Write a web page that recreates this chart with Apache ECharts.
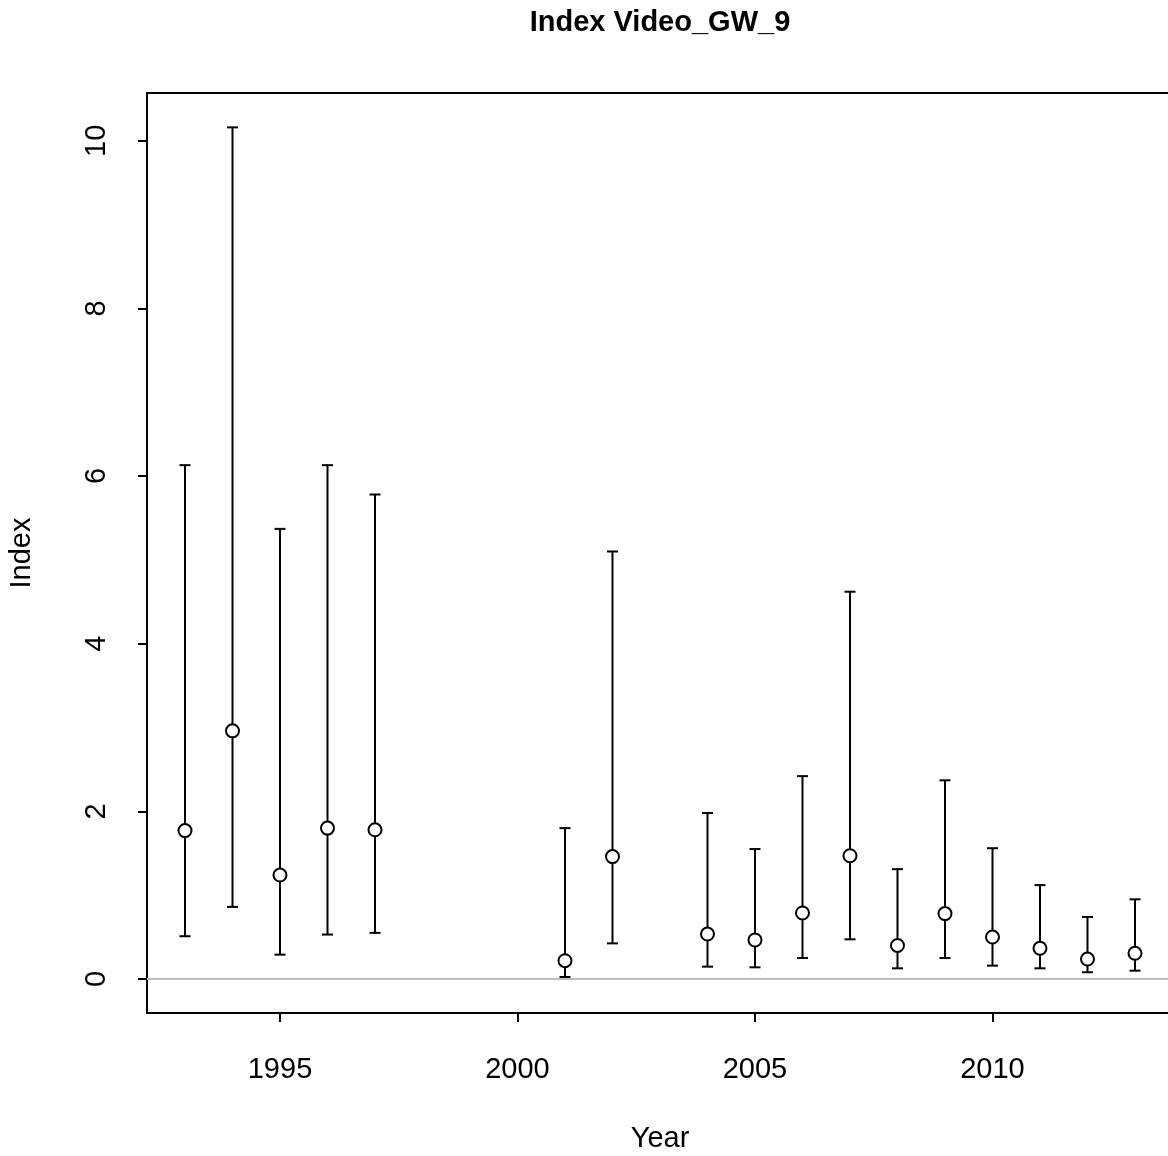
<!DOCTYPE html>
<html>
<head>
<meta charset="utf-8">
<script src="https://cdn.jsdelivr.net/npm/echarts@6/dist/echarts.min.js"></script>
<style>html,body{margin:0;padding:0;background:#fff}#c{width:1168px;height:1156px}</style>
</head>
<body>
<div id="c"></div>
<script>
const years = [1993,1994,1995,1996,1997,2001,2002,2004,2005,2006,2007,2008,2009,2010,2011,2012,2013];
const estimate = [1.77,2.96,1.24,1.80,1.78,0.218,1.46,0.536,0.465,0.787,1.47,0.40,0.78,0.50,0.366,0.238,0.306];
const lower = [0.51,0.86,0.29,0.53,0.55,0.024,0.425,0.147,0.139,0.25,0.473,0.127,0.25,0.159,0.127,0.08,0.099];
const upper = [6.13,10.16,5.37,6.13,5.78,1.80,5.10,1.98,1.55,2.42,4.62,1.31,2.37,1.56,1.12,0.74,0.95];
const xTicks = [1995,2000,2005,2010];
const yTicks = [0,2,4,6,8,10];

const FONT = '"Liberation Sans", Arial, Helvetica, sans-serif';
const chart = echarts.init(document.getElementById('c'), null, {renderer:'canvas'});

const barData = years.map((y,i)=>[y, lower[i], upper[i]]);
const ptData = years.map((y,i)=>[y, estimate[i]]);
const XMIN = 1992.2, XMAX = 2013.695;

chart.setOption({
  animation:false,
  backgroundColor:'#fff',
  grid:{left:147, top:93, right:0, height:920, show:false},
  xAxis:[{
    type:'value', min:XMIN, max:XMAX, position:'bottom',
    axisLine:{show:true, onZero:false, lineStyle:{color:'#000', width:2}},
    splitLine:{show:false},
    axisTick:{show:true, inside:false, length:9, lineStyle:{color:'#000', width:2}, customValues:xTicks},
    axisLabel:{show:true, color:'#000', fontSize:29, fontFamily:FONT, margin:42, customValues:xTicks, formatter:v=>String(v)}
  },{
    type:'value', min:XMIN, max:XMAX, position:'top',
    axisLine:{show:true, onZero:false, lineStyle:{color:'#000', width:2}},
    splitLine:{show:false}, axisTick:{show:false}, axisLabel:{show:false}
  }],
  yAxis:{
    type:'value', min:-0.406, max:10.57,
    axisLine:{show:true, onZero:false, lineStyle:{color:'#000', width:2}},
    splitLine:{show:false},
    axisTick:{show:true, inside:false, length:9, lineStyle:{color:'#000', width:2}, customValues:yTicks},
    axisLabel:{show:true, color:'#000', fontSize:29, fontFamily:FONT, margin:36, rotate:90, customValues:yTicks, formatter:v=>String(v)}
  },
  graphic:[
    {type:'text', x:660, y:23, style:{text:'Index Video_GW_9', font:'bold 29px '+FONT, fill:'#000', align:'center', verticalAlign:'middle'}},
    {type:'text', x:660, y:1139, style:{text:'Year', font:'29px '+FONT, fill:'#000', align:'center', verticalAlign:'middle'}},
    {type:'text', x:22, y:553, rotation:Math.PI/2, style:{text:'Index', font:'29px '+FONT, fill:'#000', align:'center', verticalAlign:'middle'}}
  ],
  series:[
    {
      type:'line', data:[[XMIN,0],[XMAX,0]], symbol:'none', silent:true,
      lineStyle:{color:'#bebebe', width:2}, z:1
    },
    {
      type:'custom', data:barData, z:2,
      renderItem:function(params, api){
        const x = api.coord([api.value(0), 0])[0];
        const yl = api.coord([0, api.value(1)])[1];
        const yh = api.coord([0, api.value(2)])[1];
        const hw = 5.5;
        const st = {stroke:'#000', lineWidth:2};
        return {type:'group', children:[
          {type:'line', shape:{x1:x, y1:yl, x2:x, y2:yh}, style:st},
          {type:'line', shape:{x1:x-hw, y1:yl, x2:x+hw, y2:yl}, style:st},
          {type:'line', shape:{x1:x-hw, y1:yh, x2:x+hw, y2:yh}, style:st}
        ]};
      }
    },
    {
      type:'scatter', data:ptData, symbol:'circle', symbolSize:13, z:3,
      itemStyle:{color:'#fff', borderColor:'#000', borderWidth:2, opacity:1}
    }
  ]
});
</script>
</body>
</html>
